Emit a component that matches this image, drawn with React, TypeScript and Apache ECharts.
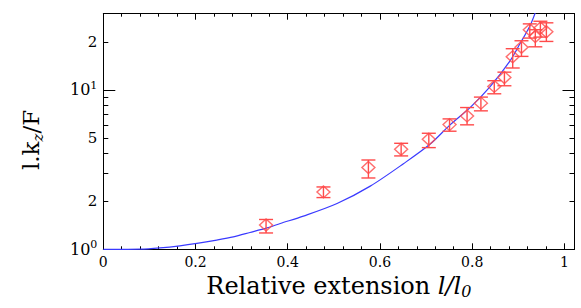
import React, { useEffect, useRef } from 'react';
import * as echarts from 'echarts';

// Measured points (relative extension, l.kz/F) with error bar ends
const pointX = [0.353, 0.4775, 0.575, 0.646, 0.706, 0.751, 0.789, 0.819, 0.848, 0.870, 0.888, 0.907, 0.925, 0.937, 0.948, 0.961];
const pointY = [1.42, 2.29, 3.26, 4.24, 4.9, 6.05, 6.86, 8.25, 10.5, 11.95, 16.1, 18.5, 23.8, 21.6, 24.4, 23.1];
const errLow = [1.266, 2.11, 2.80, 3.85, 4.34, 5.50, 6.03, 7.38, 9.44, 10.6, 13.7, 16.2, 21.1, 18.6, 21.4, 20.1];
const errHigh = [1.538, 2.46, 3.63, 4.62, 5.34, 6.57, 7.74, 9.0, 11.4, 12.9, 18.1, 20.3, 25.9, 23.8, 26.9, 26.3];

// Model curve
const curveX = [0, 0.04, 0.08, 0.123, 0.166, 0.203, 0.246, 0.282, 0.318, 0.355, 0.384, 0.434, 0.507, 0.579, 0.651, 0.709, 0.752, 0.796, 0.839, 0.883, 0.904, 0.926, 0.939];
const curveY = [1, 1, 1.002, 1.021, 1.052, 1.089, 1.143, 1.197, 1.274, 1.361, 1.452, 1.614, 1.936, 2.489, 3.44, 4.57, 6.03, 7.76, 10.47, 15.31, 19.5, 25.4, 31.6];

// Axes
const xMin = 0;
const xMax = 1.022;
const yMin = 1;
const yMax = 30;
const xMajorTicks = [0, 0.2, 0.4, 0.6, 0.8, 1];
const xMinorTicks = [0.04, 0.08, 0.12, 0.16, 0.24, 0.28, 0.32, 0.36, 0.44, 0.48, 0.52, 0.56, 0.64, 0.68, 0.72, 0.76, 0.84, 0.88, 0.92, 0.96];
const yDecadeTicks = [1, 10];
const yMinorTicks = [2, 3, 4, 5, 6, 7, 8, 9, 20, 30];
const yLabelValues = [1, 2, 5, 10, 20];
const yLabelTexts = ['10^0', '2', '5', '10^1', '2'];

const RED = '#ff4a4a';
const BLUE = '#3a3aff';
const FONT = 'DejaVu Serif';

const lg = (v: number) => Math.log10(v);

export default function App() {
  const ref = useRef<HTMLDivElement>(null);
  useEffect(() => {
    if (!ref.current) return;
    const chart = echarts.init(ref.current, undefined, { renderer: 'svg' });

    const baseX = {
      type: 'value',
      min: xMin,
      max: xMax,
      gridIndex: 0,
      splitLine: { show: false },
      minorTick: { show: false },
      axisLine: { show: false, onZero: false },
      axisLabel: { show: false },
    };
    const baseY = {
      type: 'value',
      min: lg(yMin),
      max: lg(yMax),
      gridIndex: 0,
      splitLine: { show: false },
      minorTick: { show: false },
      axisLine: { show: false, onZero: false },
      axisLabel: { show: false },
    };
    const line = { show: true, onZero: false, lineStyle: { color: '#000', width: 1 } };
    const tick = (vals: number[], len: number) => ({
      show: true, inside: true, length: len, customValues: vals,
      lineStyle: { color: '#000', width: 1 },
    });

    const yLabelFormatter = (val: number) => {
      const idx = yLabelValues.findIndex((v) => Math.abs(lg(v) - val) < 1e-6);
      if (idx < 0) return '';
      const t = yLabelTexts[idx];
      if (t.includes('^')) {
        const [b, e] = t.split('^');
        return `{b|${b}}{s|${e}}`;
      }
      return `{n|${t}}`;
    };

    const option: any = {
      animation: false,
      grid: { left: 103.3, right: 6.5, top: 13.7, bottom: 58.7, containLabel: false },
      xAxis: [
        {
          ...baseX,
          position: 'bottom',
          axisLine: line,
          axisTick: tick(xMajorTicks, 6),
          axisLabel: {
            show: true, customValues: xMajorTicks, margin: 6,
            fontFamily: FONT, fontSize: 14, color: '#000',
            formatter: (v: number) => String(Math.round(v * 100) / 100),
          },
          name: '{r|Relative extension }{i|l/l}{sub|0}',
          nameLocation: 'middle',
          nameGap: 23,
          nameTextStyle: {
            rich: {
              r: { fontFamily: FONT, fontSize: 24, color: '#000', lineHeight: 27 },
              i: { fontFamily: FONT, fontStyle: 'italic', fontSize: 24, color: '#000', lineHeight: 27 },
              sub: { fontFamily: FONT, fontStyle: 'italic', fontSize: 16, color: '#000', lineHeight: 14, verticalAlign: 'bottom' },
            },
          },
        },
        { ...baseX, position: 'bottom', axisTick: tick(xMinorTicks, 3) },
        { ...baseX, position: 'top', axisLine: line, axisTick: tick(xMajorTicks, 6) },
        { ...baseX, position: 'top', axisTick: tick(xMinorTicks, 3) },
      ],
      yAxis: [
        {
          ...baseY,
          position: 'left',
          axisLine: line,
          axisTick: tick(yDecadeTicks.map(lg), 12),
          axisLabel: {
            show: true, customValues: yLabelValues.map(lg), margin: 6,
            formatter: yLabelFormatter,
            rich: {
              b: { fontFamily: FONT, fontSize: 16, color: '#000', lineHeight: 20 },
              s: { fontFamily: FONT, fontSize: 11, color: '#000', lineHeight: 12, verticalAlign: 'top' },
              n: { fontFamily: FONT, fontSize: 15, color: '#000', lineHeight: 20 },
            },
          },
          name: '{a|l.k}{z|z}{a|/F}',
          nameLocation: 'middle',
          nameRotate: 90,
          nameGap: 58,
          nameTextStyle: {
            padding: [0, 17, 0, 0],
            rich: {
              a: { fontFamily: FONT, fontSize: 23, color: '#000', lineHeight: 28 },
              z: { fontFamily: FONT, fontStyle: 'italic', fontSize: 15, color: '#000', lineHeight: 16, verticalAlign: 'bottom' },
            },
          },
        },
        { ...baseY, position: 'left', axisTick: tick(yMinorTicks.map(lg), 5) },
        { ...baseY, position: 'right', axisLine: line, axisTick: tick(yDecadeTicks.map(lg), 12) },
        { ...baseY, position: 'right', axisTick: tick(yMinorTicks.map(lg), 5) },
      ],
      series: [
        {
          type: 'line',
          xAxisIndex: 0,
          yAxisIndex: 0,
          data: curveX.map((x, i) => [x, lg(curveY[i])]),
          smooth: 0.3,
          showSymbol: false,
          symbol: 'none',
          clip: true,
          lineStyle: { color: BLUE, width: 1.2 },
          z: 3,
        },
        {
          type: 'custom',
          xAxisIndex: 0,
          yAxisIndex: 0,
          data: pointX.map((x, i) => [x, lg(errLow[i]), lg(errHigh[i])]),
          encode: { x: 0, y: [1, 2] },
          renderItem: (params: any, api: any) => {
            const x = api.value(0);
            const pLo = api.coord([x, api.value(1)]);
            const pHi = api.coord([x, api.value(2)]);
            const hw = 7;
            const style = { stroke: RED, lineWidth: 1.4 };
            return {
              type: 'group',
              children: [
                { type: 'line', shape: { x1: pLo[0], y1: pLo[1], x2: pHi[0], y2: pHi[1] }, style },
                { type: 'line', shape: { x1: pLo[0] - hw, y1: pLo[1], x2: pLo[0] + hw, y2: pLo[1] }, style },
                { type: 'line', shape: { x1: pHi[0] - hw, y1: pHi[1], x2: pHi[0] + hw, y2: pHi[1] }, style },
              ],
            };
          },
          z: 4,
        },
        {
          type: 'scatter',
          xAxisIndex: 0,
          yAxisIndex: 0,
          data: pointX.map((x, i) => [x, lg(pointY[i])]),
          symbol: 'diamond',
          symbolSize: [13, 12],
          itemStyle: { color: 'rgba(0,0,0,0)', borderColor: RED, borderWidth: 1.4 },
          z: 5,
        },
      ],
    };
    chart.setOption(option);
    return () => chart.dispose();
  }, []);
  return (
    <div
      ref={ref}
      style={{ position: 'fixed', left: 0, top: 0, width: 581, height: 308, background: '#fff' }}
    />
  );
}
